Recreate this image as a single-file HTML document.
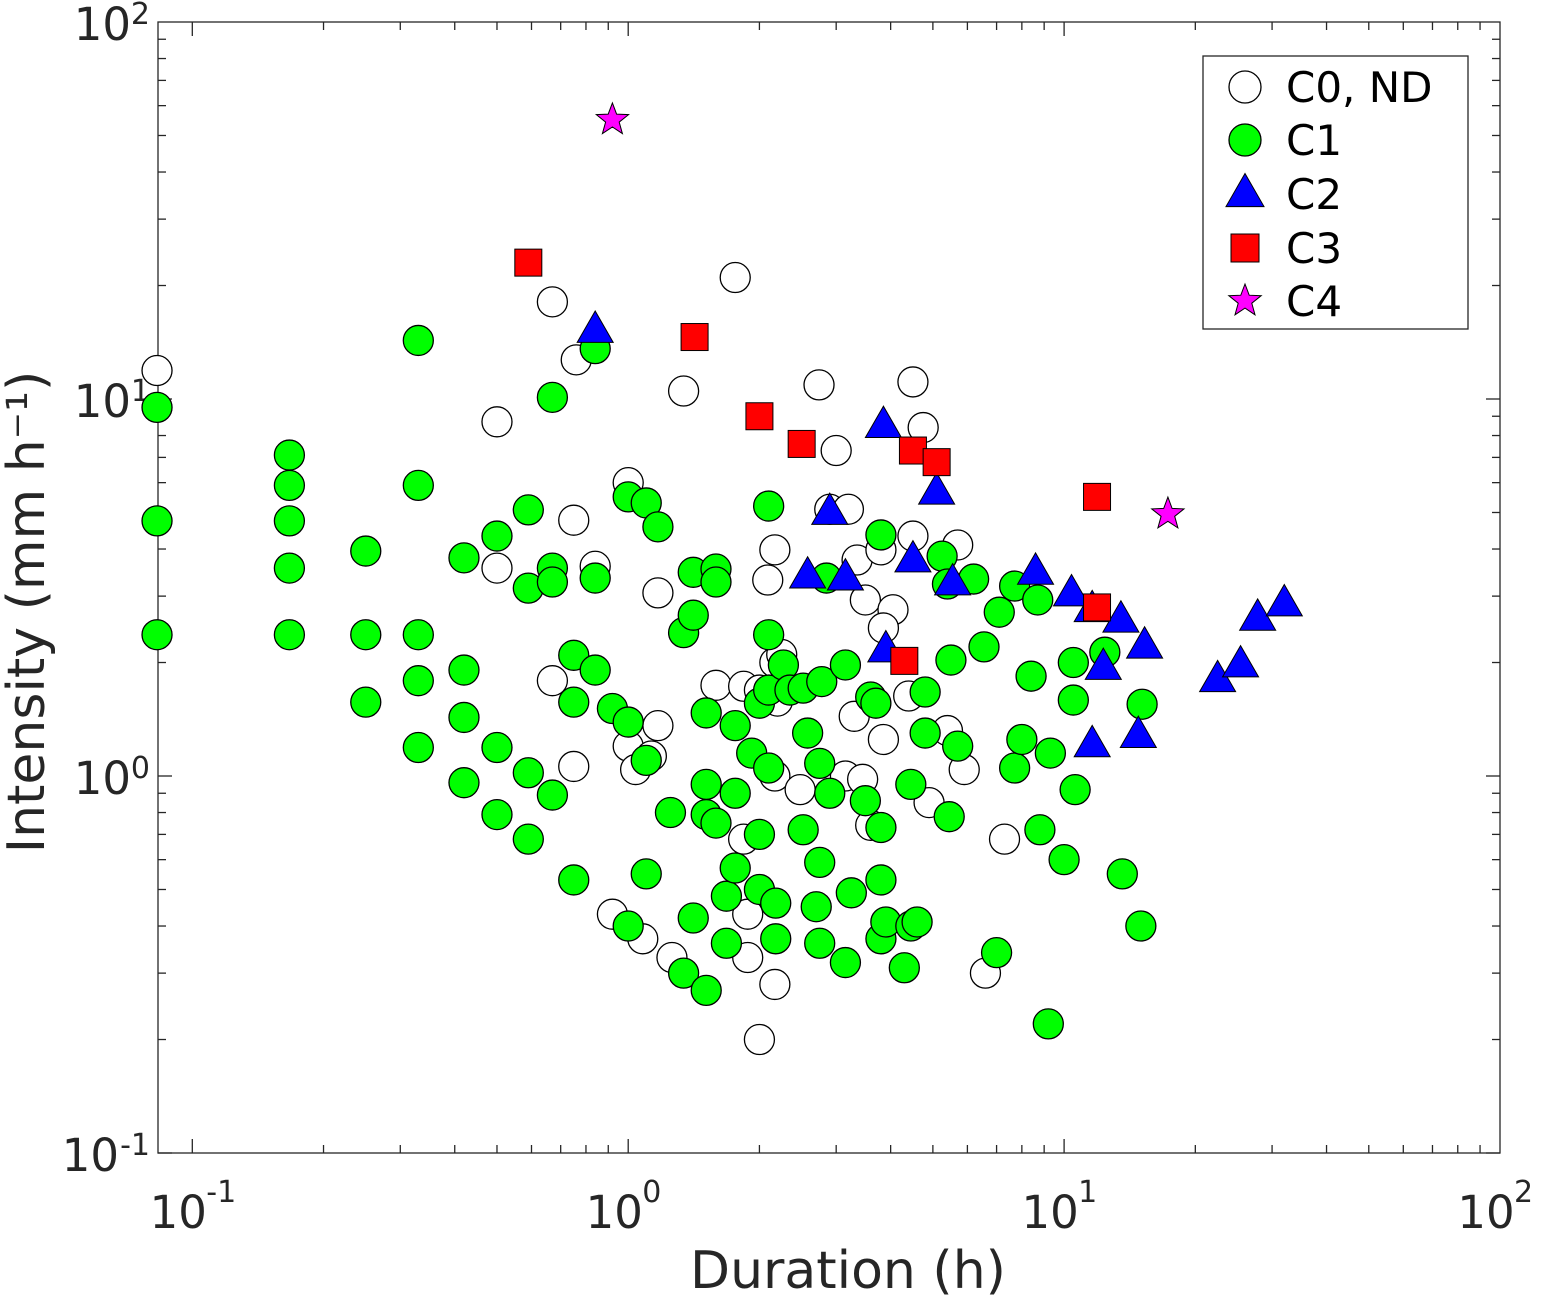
<!DOCTYPE html>
<html><head><meta charset="utf-8"><style>
html,body{margin:0;padding:0;background:#fff;}
svg{display:block;font-family:"DejaVu Sans","Liberation Sans",sans-serif;}
</style></head><body>
<svg id="chart" width="1548" height="1300" xmlns="http://www.w3.org/2000/svg"></svg>
<script>
const c0x=[0.083,0.67,0.76,0.5,0.5,0.75,0.84,0.67,0.75,0.92,1.0,1.0,1.08,1.17,1.17,1.04,1.26,1.34,1.13,1.59,1.76,1.84,1.84,1.88,1.88,2.09,2.17,2.17,2.2,2.17,2.0,2.17,2.25,2.0,2.74,3.0,2.9,3.2,3.35,3.8,3.5,4.05,3.85,3.85,3.3,3.15,3.45,3.6,4.5,4.75,4.5,5.7,4.4,4.9,5.4,5.9,6.6,7.3,2.48];
const c0y=[11.9,18.1,12.7,8.7,3.56,4.77,3.6,1.79,1.06,0.43,6.0,1.2,0.37,3.06,1.36,1.04,0.33,10.5,1.13,1.74,21,0.68,1.73,0.33,0.43,3.31,3.98,2.0,1.58,1.0,0.2,0.28,2.1,1.69,10.9,7.3,5.1,5.1,3.74,3.98,2.93,2.76,2.47,1.25,1.44,1.0,0.98,0.74,11.1,8.4,4.33,4.1,1.63,0.85,1.32,1.04,0.3,0.68,0.92];
const c1x=[0.083,0.083,0.083,0.167,0.167,0.167,0.167,0.167,0.25,0.25,0.25,0.33,0.33,0.33,0.33,0.33,0.42,0.42,0.42,0.42,0.5,0.5,0.5,0.59,0.59,0.59,0.59,0.67,0.67,0.67,0.67,0.75,0.75,0.75,0.84,0.84,0.84,0.92,1.0,1.0,1.0,1.1,1.1,1.1,1.17,1.25,1.34,1.41,1.41,1.41,1.34,1.51,1.51,1.51,1.51,1.59,1.59,1.59,1.68,1.68,1.76,1.76,1.76,1.92,2.0,2.0,2.0,2.1,2.1,2.1,2.1,2.18,2.18,2.27,2.35,2.52,2.52,2.58,2.7,2.75,2.75,2.75,2.78,2.85,2.9,3.15,3.15,3.25,3.5,3.6,3.7,3.8,3.8,3.8,3.8,3.9,4.3,4.45,4.45,4.8,4.8,4.6,5.25,5.4,5.45,5.5,5.7,6.2,6.55,7.0,7.1,7.7,7.7,8.0,8.4,8.7,8.8,9.2,9.3,10.0,10.5,10.5,10.6,12.4,13.6,15.0,15.1];
const c1y=[9.5,4.75,2.37,7.1,5.9,4.75,3.56,2.37,3.95,2.37,1.57,14.3,5.9,2.37,1.79,1.19,3.79,1.91,1.43,0.96,4.33,1.19,0.79,5.08,3.15,1.02,0.68,10.1,3.56,3.27,0.89,2.09,1.57,0.53,13.6,3.35,1.91,1.51,5.5,1.39,0.4,5.3,1.1,0.55,4.58,0.8,2.4,3.47,2.67,0.42,0.3,1.47,0.95,0.79,0.27,3.54,3.27,0.75,0.48,0.36,1.36,0.9,0.57,1.15,0.7,0.5,1.56,5.2,2.37,1.69,1.05,0.37,0.46,1.97,1.69,0.72,1.71,1.3,0.45,1.08,0.59,0.36,1.78,3.35,0.9,1.97,0.32,0.49,0.86,1.62,1.56,4.36,0.53,0.73,0.37,0.41,0.31,0.4,0.95,1.67,1.3,0.41,3.83,3.23,0.78,2.03,1.2,3.33,2.2,0.34,2.72,3.19,1.05,1.25,1.84,2.93,0.72,0.22,1.15,0.6,2.0,1.59,0.92,2.13,0.55,0.4,1.55];
const c2x=[0.84,3.85,2.9,2.58,3.15,3.9,4.5,5.1,5.55,8.6,10.4,11.6,13.5,15.3,12.3,11.6,14.8,22.5,25.4,27.8,32];
const c2y=[15.2,8.5,5.0,3.39,3.35,2.16,3.74,5.66,3.25,3.47,3.04,2.76,2.59,2.21,1.94,1.21,1.28,1.8,1.97,2.62,2.86];
const c3x=[0.59,1.42,2.0,2.5,4.5,5.1,11.9,11.9,4.3];
const c3y=[23,14.6,9.0,7.6,7.3,6.8,5.5,2.8,2.02];
const c4x=[0.92,17.3];
const c4y=[55,4.95];
const xTickVals=[0.1,1,10,100];
const xTickExps=["-1","0","1","2"];
const yTickVals=[0.1,1,10,100];
const yTickExps=["-1","0","1","2"];

const NS="http://www.w3.org/2000/svg";
const svg=document.getElementById('chart');
const L=158,R=1500,T=22,B=1153;
const xmin=-1.0787,xmax=2,ymin=-1,ymax=2;
function sx(v){return L+(Math.log10(v)-xmin)/(xmax-xmin)*(R-L);}
function sy(v){return B-(Math.log10(v)-ymin)/(ymax-ymin)*(B-T);}
function mk(tag,attrs,parent){const e=document.createElementNS(NS,tag);for(const k in attrs)e.setAttribute(k,attrs[k]);(parent||svg).appendChild(e);return e;}

const frame=mk('rect',{x:L,y:T,width:R-L,height:B-T,fill:'none',stroke:'#262626','stroke-width':1.3});



const tg=mk('g',{stroke:'#262626','stroke-width':1.3});


for(let d=-1;d<2;d++){for(let m=1;m<10;m++){const v=m*Math.pow(10,d);const len=m===1?14:8;
 const x=sx(v);if(x>=L&&x<=R){mk('line',{x1:x,x2:x,y1:B,y2:B-len},tg);mk('line',{x1:x,x2:x,y1:T,y2:T+len},tg);}
 const y=sy(v);if(y>=T&&y<=B){mk('line',{x1:L,x2:L+len,y1:y,y2:y},tg);mk('line',{x1:R,x2:R-len,y1:y,y2:y},tg);}
}}
const tlg=mk('g',{fill:'#262626','font-size':45});


xTickVals.forEach((v,i)=>{const t=mk('text',{x:sx(v)-14,y:1228,'text-anchor':'middle'},tlg);t.textContent='10';
 const s=mk('text',{x:sx(v)+14,y:1202,'font-size':30},tlg);s.textContent=xTickExps[i];
 });
yTickVals.forEach((v,i)=>{const y=sy(v);const e=yTickExps[i];const ew=e.length>1?31:19;
 const s=mk('text',{x:150,y:y+2,'text-anchor':'end','font-size':30},tlg);s.textContent=e;
 const t=mk('text',{x:150-ew,y:y+18,'text-anchor':'end'},tlg);t.textContent='10';
 });

const xt=mk('text',{x:848,y:1288,'text-anchor':'middle','font-size':52,fill:'#262626'});
xt.textContent='Duration (h)';


const yt=mk('text',{x:0,y:0,'text-anchor':'middle','font-size':52,fill:'#262626',transform:'translate(44,612) rotate(-90)'});
yt.textContent='Intensity (mm h\u207B\u00B9)';



function circle(g,x,y,r,fill){return mk('circle',{cx:x,cy:y,r:r,fill:fill,stroke:'#000','stroke-width':1.3},g);}
function tri(g,x,y,s){const h=s*0.87;return mk('polygon',{points:`${x},${y-h*0.62} ${x-s/2},${y+h*0.38} ${x+s/2},${y+h*0.38}`,fill:'#0000ff',stroke:'#000','stroke-width':1},g);}
function sq(g,x,y,s){return mk('rect',{x:x-s/2,y:y-s/2,width:s,height:s,fill:'#ff0000',stroke:'#000','stroke-width':1},g);}
function star(g,x,y,r){let p=[];for(let i=0;i<10;i++){const a=-Math.PI/2+i*Math.PI/5;const rr=i%2?r*0.42:r;p.push((x+rr*Math.cos(a)).toFixed(1)+','+(y+rr*Math.sin(a)).toFixed(1));}
 return mk('polygon',{points:p.join(' '),fill:'#ff00ff',stroke:'#000','stroke-width':1},g);}

const g0=mk('g',{});
c0x.forEach((v,i)=>{const e=circle(g0,sx(v),sy(c0y[i]),15,'#fff');});
const g1=mk('g',{});
c1x.forEach((v,i)=>{const e=circle(g1,sx(v),sy(c1y[i]),15,'#00ff00');});
const g2=mk('g',{});
c2x.forEach((v,i)=>{const e=tri(g2,sx(v),sy(c2y[i]),36);});
const g3=mk('g',{});
c3x.forEach((v,i)=>{const e=sq(g3,sx(v),sy(c3y[i]),27);});
const g4=mk('g',{});
c4x.forEach((v,i)=>{const e=star(g4,sx(v),sy(c4y[i]),17);});

const lg=mk('g',{});


mk('rect',{x:1203,y:56,width:265,height:273,fill:'#fff',stroke:'#262626','stroke-width':1.3},lg);
const labels=['C0, ND','C1','C2','C3','C4'];
const ly=[87,140,194,248,301];
labels.forEach((lab,i)=>{const e=mk('g',{},lg);
 
 
 const x=1245,y=ly[i];
 if(i===0)circle(e,x,y,16,'#fff');if(i===1)circle(e,x,y,16,'#00ff00');
 if(i===2)tri(e,x,y,38);if(i===3)sq(e,x,y,28);if(i===4)star(e,x,y,17);
 const t=mk('text',{x:1286,y:y+15,'font-size':42,fill:'#000'},e);t.textContent=lab;});
</script>
</body></html>
